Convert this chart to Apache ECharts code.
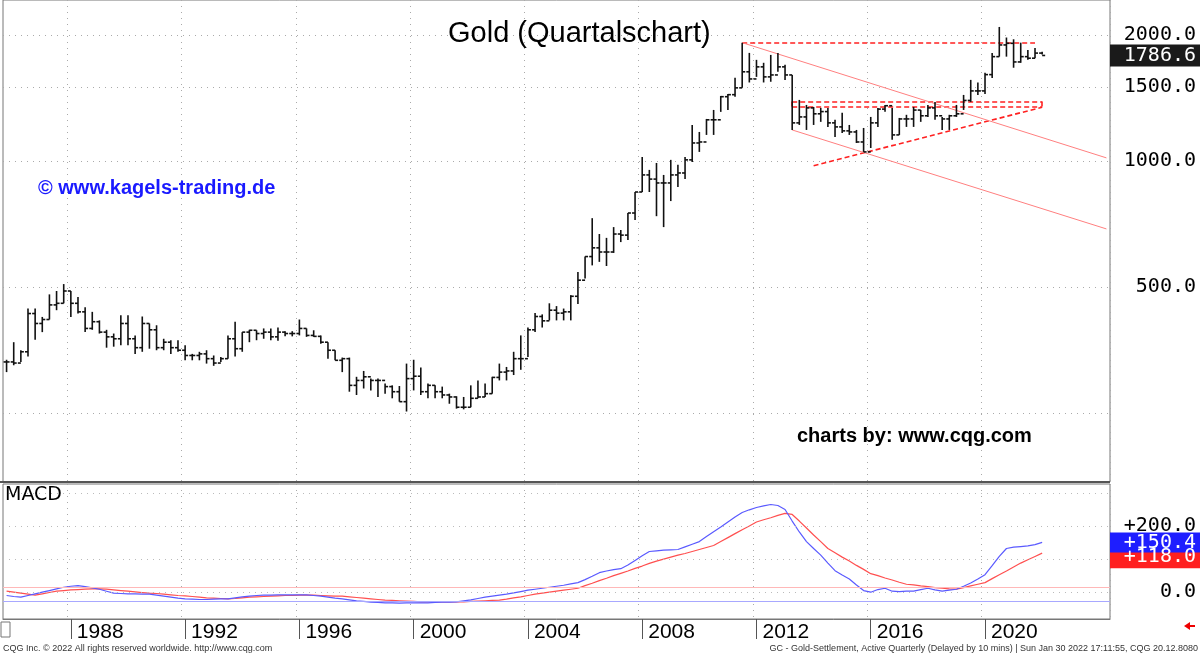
<!DOCTYPE html>
<html><head><meta charset="utf-8">
<script src="https://cdn.jsdelivr.net/npm/echarts@6/dist/echarts.min.js"></script>
<style>html,body{margin:0;padding:0;background:#fff}#c{width:1200px;height:655px}</style>
</head><body><div id="c"></div>
<script>
// Quarterly bars from 1985 Q4 to 2022 Q1 (146 bars), plus empty room on the right
const startYear = 1985, startQuarter = 4, totalSlots = 155;
const yearLabels = ['1988','1992','1996','2000','2004','2008','2012','2016','2020'];
const priceTicks = [500, 1000, 1500, 2000];
const priceGrid = [250, 500, 1000, 1500, 2000];
const macdTicks = [0, 100, 200];
const macdGrid = [0, 100, 200, 300];
// high, low, close (open = previous close)
const highs = [335,369,353,444,444,424,480,489,508,489,473,447,436,416,395,387,428,428,383,425,409,405,376,373,373,363,346,350,353,343,340,383,413,390,395,394,398,398,400,392,392,418,398,394,383,369,353,339,339,305,315,302,302,294,291,290,328,335,321,294,291,289,278,274,273,291,299,294,305,328,322,350,383,400,433,430,457,450,444,478,543,591,730,669,655,695,684,751,843,1022,952,989,926,1006,980,1022,1219,1173,1260,1324,1430,1446,1580,1917,1812,1744,1716,1792,1812,1697,1605,1399,1361,1346,1339,1339,1254,1304,1219,1186,1199,1274,1339,1361,1339,1267,1289,1346,1324,1361,1384,1274,1289,1361,1438,1562,1540,1624,1812,2090,1972,1953,1917,1842,1862,1824];
const lows = [313,325,331,341,374,390,418,440,457,424,432,390,395,387,358,360,363,363,346,350,356,353,353,346,350,334,334,334,328,324,331,337,341,350,369,373,376,373,372,381,381,383,380,380,366,337,334,313,281,276,286,283,273,278,271,266,252,283,276,271,271,271,263,256,255,258,271,273,278,299,299,308,317,340,390,400,416,416,416,416,455,524,563,574,561,603,640,647,723,843,843,738,695,802,867,905,994,1051,1154,1154,1310,1324,1423,1495,1540,1588,1540,1546,1633,1562,1186,1219,1186,1219,1240,1206,1141,1167,1154,1104,1051,1074,1206,1310,1123,1154,1206,1206,1240,1274,1254,1186,1186,1274,1324,1384,1438,1446,1579,1775,1775,1670,1716,1744,1760,1795];
const closes = [331,329,350,432,409,418,453,457,489,457,436,398,413,390,380,376,409,376,358,409,395,358,369,358,353,343,343,346,337,329,337,376,356,390,394,387,390,380,390,387,387,398,383,381,369,353,334,337,291,299,305,299,299,289,281,266,302,306,281,291,281,276,273,258,258,271,273,278,304,313,315,337,337,395,425,415,440,433,436,475,519,591,620,606,606,669,665,751,843,926,905,886,886,926,936,1006,1104,1110,1254,1254,1424,1440,1495,1633,1570,1678,1588,1605,1678,1605,1233,1274,1339,1296,1312,1233,1206,1180,1173,1110,1051,1233,1330,1355,1154,1260,1260,1323,1282,1339,1282,1260,1282,1296,1395,1470,1470,1608,1775,1893,1910,1724,1775,1760,1810,1786.6];
const macdLine = [-10,-13,-15,-10,-5,0,5,10,15,18,20,17,13,9,3,-3,-4,-5,-5,-6,-6,-9,-12,-15,-18,-20,-21,-22,-22,-21,-20,-20,-17,-14,-12,-10,-9,-9,-8,-8,-8,-8,-8,-10,-12,-15,-18,-20,-23,-26,-28,-30,-31,-32,-32,-33,-32,-32,-32,-32,-31,-30,-30,-29,-26,-23,-19,-15,-12,-9,-6,-2,2,6,9,12,15,18,21,25,29,38,48,59,64,68,71,82,96,110,123,125,127,128,129,137,145,153,168,183,197,212,227,241,249,256,261,265,262,250,215,182,153,132,112,88,65,52,40,22,5,0,8,12,3,2,3,3,8,12,7,3,6,9,18,28,40,53,80,108,132,136,138,140,144,150.4];
const signalLine = [3,0,-3,-6,-9,-5,-1,3,5,7,8,9,10,10,9,7,5,3,1,-1,-3,-4,-6,-8,-10,-11,-13,-15,-17,-18,-19,-20,-19,-17,-15,-14,-13,-12,-11,-10,-10,-9,-9,-9,-10,-11,-12,-12,-14,-16,-18,-20,-22,-24,-25,-26,-27,-28,-29,-29,-29,-29,-29,-29,-29,-28,-27,-26,-25,-24,-21,-17,-14,-10,-6,-3,0,3,6,9,12,20,27,35,42,50,57,64,72,79,87,94,100,106,112,117,123,129,135,141,153,165,177,189,200,212,219,225,232,238,235,215,194,173,153,132,119,106,94,81,69,56,50,43,37,30,24,22,19,17,14,12,10,9,14,19,24,29,41,53,64,76,88,98,108,118];
const macdRefUpper = 15, macdRefLower = -27;
// chart annotations: [startIndex, startPrice, endIndex, endPrice]
const dashedLines = [[103,1917,144,1917],[110,1387,145,1387],[110,1344,145,1344],[145,1387,145,1344],[110,1387,110,1344],[113,974,145,1344]];
const thinLines = [[103,1917,154,1017],[110,1186,154,688]];

const cats = [];
for (let k = 0; k < totalSlots; k++) {
  const q = startQuarter - 1 + k;
  cats.push((startYear + Math.floor(q / 4)) + 'Q' + (q % 4 + 1));
}
const ohlc = highs.map((h, i) => [i, i === 0 ? closes[0] : closes[i - 1], closes[i], lows[i], h]);
const isYearTick = (i) => yearLabels.indexOf(cats[i].slice(0, 4)) !== -1 && cats[i].slice(4) === 'Q1';

function renderOHLC(params, api) {
  const i = api.value(0);
  const o = api.coord([i, api.value(1)]), c = api.coord([i, api.value(2)]);
  const l = api.coord([i, api.value(3)]), h = api.coord([i, api.value(4)]);
  const st = {stroke: '#111', lineWidth: 1.6};
  return {type: 'group', children: [
    {type: 'line', shape: {x1: h[0], y1: h[1], x2: l[0], y2: l[1]}, style: st},
    {type: 'line', shape: {x1: o[0] - 3, y1: o[1], x2: o[0], y2: o[1]}, style: st},
    {type: 'line', shape: {x1: c[0], y1: c[1], x2: c[0] + 3, y2: c[1]}, style: st}
  ]};
}
const seg = (a, style) => a.map(s => [{coord: [s[0], s[1]], lineStyle: style}, {coord: [s[2], s[3]]}]);

const chart = echarts.init(document.getElementById('c'), null, {renderer: 'canvas'});
const font = 'Liberation Sans, Arial, sans-serif';
const mono = 'DejaVu Sans Mono, monospace';
chart.setOption({
  animation: false,
  backgroundColor: '#fff',
  title: {text: 'Gold (Quartalschart)', left: 443, top: 14, textStyle: {fontSize: 29, fontWeight: 'normal', fontFamily: font, color: '#000'}},
  grid: [
    {left: 3, right: 90, top: 0, height: 482, show: true, borderColor: '#777', borderWidth: 1},
    {left: 3, right: 90, top: 484, height: 135, show: true, borderColor: '#777', borderWidth: 1}
  ],
  xAxis: [
    {type: 'category', data: cats, gridIndex: 0, boundaryGap: true, axisLine: {show: false}, axisTick: {show: false}, axisLabel: {show: false},
     splitLine: {show: true, interval: (i) => isYearTick(i), lineStyle: {color: '#aaa', type: [1, 5]}}},
    {type: 'category', data: cats, gridIndex: 1, boundaryGap: true, position: 'bottom', axisLine: {show: true, onZero: false, lineStyle: {color: '#777'}},
     axisTick: {show: true, alignWithLabel: true, interval: (i) => isYearTick(i), length: 20, lineStyle: {color: '#555'}},
     axisLabel: {interval: (i) => isYearTick(i), formatter: (v) => v.slice(0, 4), align: 'left', margin: 3, padding: [0, 0, 0, 6], fontSize: 21, color: '#000', fontFamily: font},
     splitLine: {show: true, interval: (i) => isYearTick(i), lineStyle: {color: '#aaa', type: [1, 5]}}}
  ],
  yAxis: [
    {type: 'log', gridIndex: 0, position: 'right', min: 171, max: 2424, axisLine: {show: false}, axisTick: {show: false}, splitLine: {show: false},
     axisLabel: {customValues: priceTicks, formatter: (v) => v.toFixed(1), fontSize: 20, color: '#000', fontFamily: mono, align: 'right', margin: 86}},
    {type: 'value', gridIndex: 1, position: 'right', min: -81, max: 327, axisLine: {show: false}, axisTick: {show: false}, splitLine: {show: false},
     axisLabel: {customValues: macdTicks, formatter: (v) => (v > 0 ? '+' : '') + v.toFixed(1), fontSize: 20, color: '#000', fontFamily: mono, align: 'right', margin: 86}}
  ],
  series: [
    {type: 'custom', xAxisIndex: 0, yAxisIndex: 0, renderItem: renderOHLC, data: ohlc, encode: {x: 0, y: [1, 2, 3, 4]}, z: 5,
     markLine: {silent: true, symbol: 'none', label: {show: false}, animation: false,
       data: priceGrid.map(v => ({yAxis: v, lineStyle: {color: '#aaa', type: [1, 5], width: 1}}))
         .concat(seg(dashedLines, {color: '#ff2020', type: [5, 3], width: 1.6}))
         .concat(seg(thinLines, {color: '#ff8080', type: 'solid', width: 1}))}},
    {type: 'line', xAxisIndex: 1, yAxisIndex: 1, data: [], silent: true,
     markLine: {silent: true, symbol: 'none', label: {show: false}, lineStyle: {color: '#bbb', type: [1, 5], width: 1},
       data: macdGrid.map(v => ({yAxis: v}))}},
    {type: 'line', xAxisIndex: 1, yAxisIndex: 1, data: macdLine, showSymbol: false, lineStyle: {color: '#5a5aff', width: 1.2}, z: 4,
     markLine: {silent: true, symbol: 'none', label: {show: false}, lineStyle: {color: '#a8a8ff', type: 'solid', width: 1.2}, data: [{yAxis: macdRefLower}]}},
    {type: 'line', xAxisIndex: 1, yAxisIndex: 1, data: signalLine, showSymbol: false, lineStyle: {color: '#ff5050', width: 1.2}, z: 3,
     markLine: {silent: true, symbol: 'none', label: {show: false}, lineStyle: {color: '#ffb8b8', type: 'solid', width: 1.2}, data: [{yAxis: macdRefUpper}]}}
  ]
});

const lastPrice = closes[closes.length - 1];
const py = chart.convertToPixel({yAxisIndex: 0}, lastPrice);
const my = chart.convertToPixel({yAxisIndex: 1}, macdLine[macdLine.length - 1]);
const sy = chart.convertToPixel({yAxisIndex: 1}, signalLine[signalLine.length - 1]);
const tag = (y, bg, txt, h) => [
  {type: 'rect', shape: {x: 1110, y: y - h / 2, width: 90, height: h}, style: {fill: bg}, z: 100},
  {type: 'text', x: 1196, y: y, style: {text: txt, fill: '#fff', font: '20px ' + mono, textAlign: 'right', textVerticalAlign: 'middle'}, z: 101}
];
chart.setOption({graphic: [].concat(
  tag(py, '#1a1a1a', lastPrice.toFixed(1), 22),
  tag(sy + 4, '#ff2020', '+' + signalLine[signalLine.length - 1].toFixed(1), 22),
  tag(my, '#1e1eff', '+' + macdLine[macdLine.length - 1].toFixed(1), 20),
  [
    {type: 'text', x: 38, y: 178, style: {text: '© www.kagels-trading.de', fill: '#1a1aff', font: 'bold 20px ' + font}},
    {type: 'text', x: 797, y: 426, style: {text: 'charts by: www.cqg.com', fill: '#000', font: 'bold 20px ' + font}},
    {type: 'text', x: 5, y: 486, style: {text: 'MACD', fill: '#000', font: '19px DejaVu Sans, sans-serif'}},
    {type: 'text', x: 3, y: 644, style: {text: 'CQG Inc. © 2022 All rights reserved worldwide. http://www.cqg.com', fill: '#333', font: '9px ' + font}},
    {type: 'text', x: 1198, y: 644, style: {text: 'GC - Gold-Settlement, Active Quarterly (Delayed by 10 mins) | Sun Jan 30 2022 17:11:55, CQG 20.12.8080', fill: '#333', font: '9px ' + font, textAlign: 'right'}},
    {type: 'rect', shape: {x: 0, y: 481, width: 1110, height: 2}, style: {fill: '#555'}, z: 50},
    {type: 'rect', shape: {x: 1, y: 622, width: 9, height: 15}, style: {fill: 'none', stroke: '#777'}},
    {type: 'polygon', shape: {points: [[1184, 626], [1190, 622], [1190, 630]]}, style: {fill: '#e00'}},
    {type: 'rect', shape: {x: 1189, y: 625, width: 6, height: 2}, style: {fill: '#e00'}}
  ])});
</script></body></html>
